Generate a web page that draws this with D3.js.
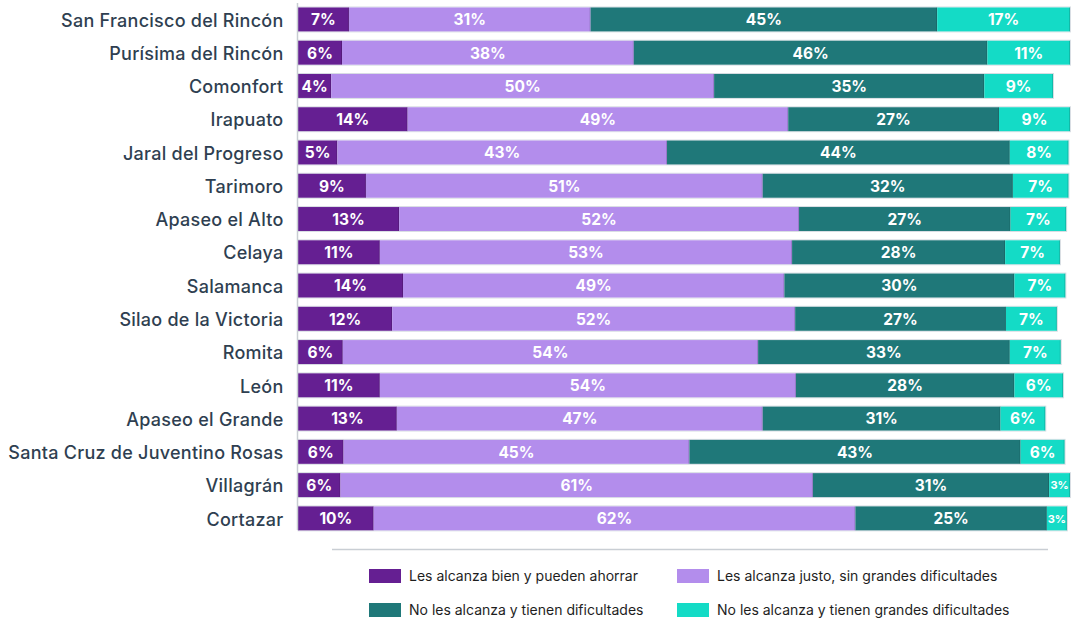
<!DOCTYPE html>
<html><head><meta charset="utf-8">
<script src="https://cdn.jsdelivr.net/npm/d3@7"></script>
<style>
html,body{margin:0;padding:0;background:#fff;}
svg{display:block;}
</style></head>
<body>
<svg id="chart" width="1073" height="619"></svg>
<script>
const categories = ["San Francisco del Rincón","Purísima del Rincón","Comonfort","Irapuato","Jaral del Progreso","Tarimoro","Apaseo el Alto","Celaya","Salamanca","Silao de la Victoria","Romita","León","Apaseo el Grande","Santa Cruz de Juventino Rosas","Villagrán","Cortazar"];
const seriesNames = ["Les alcanza bien y pueden ahorrar","Les alcanza justo, sin grandes dificultades","No les alcanza y tienen dificultades","No les alcanza y tienen grandes dificultades"];
const bienAhorrar   = [6.6,5.7,4.3,14.2,5.1,8.8,13.1,10.6,13.6,12.2,5.8,10.6,12.8,5.9,5.5,9.8];
const justo         = [31.3,37.8,49.6,49.3,42.7,51.4,51.8,53.4,49.4,52.2,53.8,53.9,47.4,44.8,61.2,62.4];
const dificultades  = [44.9,45.8,35.0,27.3,44.4,32.4,27.4,27.6,29.8,27.3,32.6,28.3,30.8,42.9,30.6,24.8];
const grandesDif    = [17.2,10.7,8.9,9.2,7.6,7.2,7.2,7.1,6.6,6.6,6.6,6.3,5.8,5.7,2.7,2.6];
const colors = ["#651f92","#b38dec","#1f7879","#14dbc6"];

const seriesValues = [bienAhorrar, justo, dificultades, grandesDif];
const rows = categories.map((c,i)=>{ const o={cat:c}; seriesValues.forEach((s,k)=>o["s"+k]=s[i]); return o; });
const keys = ["s0","s1","s2","s3"];
const stack = d3.stack().keys(keys)(rows);

const svg = d3.select("#chart");
const x = d3.scaleLinear().domain([0,100]).range([298,1070]);
const y = d3.scaleBand().domain(categories).range([2.8,535]).paddingInner(0.28).paddingOuter(0.14);
const color = d3.scaleOrdinal().domain(keys).range(colors);

// row outlines
svg.append("g").selectAll("rect").data(rows).join("rect")
  .attr("x", x(0)).attr("y", d=>y(d.cat)-0.5)
  .attr("width", d=>x(d.s0+d.s1+d.s2+d.s3)-x(0)+0.5)
  .attr("height", y.bandwidth()+1)
  .attr("fill","none").attr("stroke","#d9dee4").attr("stroke-width",1);

const layers = svg.append("g").selectAll("g").data(stack).join("g").attr("fill", d=>color(d.key));
layers.selectAll("rect").data(d=>d).join("rect")
  .attr("x", d=>x(d[0])).attr("y", d=>y(d.data.cat))
  .attr("width", d=>x(d[1])-x(d[0])).attr("height", y.bandwidth());
layers.selectAll("line").data(d=>d).join("line")
  .attr("x1", d=>x(d[1])-0.5).attr("x2", d=>x(d[1])-0.5)
  .attr("y1", d=>y(d.data.cat)).attr("y2", d=>y(d.data.cat)+y.bandwidth())
  .attr("stroke","#000").attr("stroke-opacity",0.15).attr("stroke-width",1);

// value labels
stack.forEach(layer=>{
  svg.append("g").selectAll("text").data(layer).join("text")
    .attr("x", d=>(x(d[0])+x(d[1]))/2)
    .attr("y", d=>y(d.data.cat)+y.bandwidth()/2)
    .attr("dy","0.38em")
    .attr("text-anchor","middle")
    .attr("fill","#fff")
    .attr("font-family","Inter, sans-serif")
    .attr("font-weight",700)
    .attr("font-size", d=> (x(d[1])-x(d[0])) < 26 ? 11 : 15.5)
    .text(d=>Math.round(d[1]-d[0])+"%");
});

// category axis
const yAxis = svg.append("g").attr("transform","translate(297.5,0)")
  .call(d3.axisLeft(y).tickSize(0).tickPadding(14));
yAxis.select(".domain").remove();
yAxis.selectAll("text").attr("font-family","Inter, sans-serif").attr("font-size",18)
  .attr("font-weight",500).attr("letter-spacing","0.25px").attr("dy","0.4em").attr("fill","#2f3f51");
svg.append("line").attr("x1",297.5).attr("x2",297.5).attr("y1",3).attr("y2",530)
  .attr("stroke","#c8cdd2").attr("stroke-width",1.5);

// separator line
svg.append("line").attr("x1",332).attr("x2",1048).attr("y1",549.5).attr("y2",549.5)
  .attr("stroke","#c9ced4").attr("stroke-width",1.5);

// legend
const legPos = [[369,569],[677,569],[369,603],[677,603]];
const leg = svg.append("g").selectAll("g").data(seriesNames).join("g")
  .attr("transform",(d,i)=>`translate(${legPos[i][0]},${legPos[i][1]})`);
leg.append("rect").attr("width",32).attr("height",14).attr("fill",(d,i)=>colors[i]);
leg.append("text").attr("x",40).attr("y",7).attr("dy","0.35em")
  .attr("font-family","Inter, sans-serif").attr("font-size",14).attr("fill","#1e1e1e")
  .text(d=>d);
</script>
</body></html>
